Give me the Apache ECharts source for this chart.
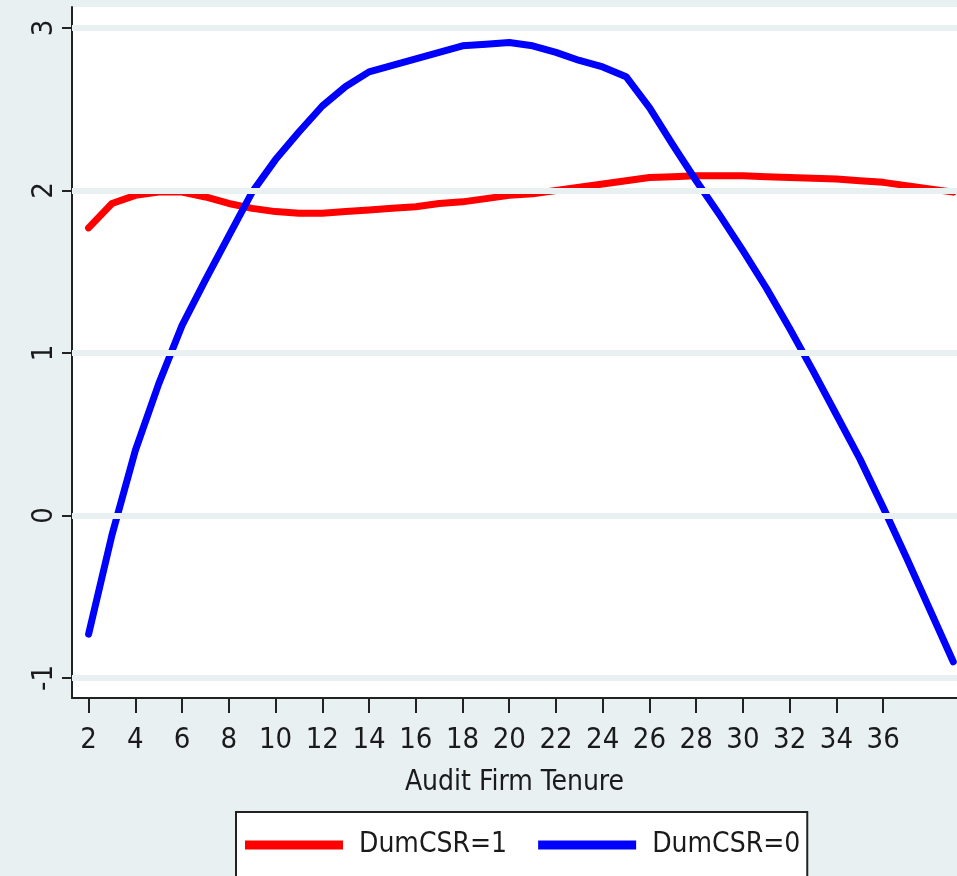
<!DOCTYPE html>
<html>
<head>
<meta charset="utf-8">
<script src="https://cdn.jsdelivr.net/npm/echarts@6/dist/echarts.min.js"></script>
<style>
html,body{margin:0;padding:0;background:#e8f0f2;}
#chart{width:957px;height:876px;}
</style>
</head>
<body>
<div id="chart"></div>
<script>
const tenure = [2,3,4,5,6,7,8,9,10,11,12,13,14,15,16,17,18,19,20,21,22,23,24,25,26,27,28,29,30,31,32,33,34,35,36,37,38,39];
const csr1 = [1.77,1.92,1.97,1.99,1.99,1.96,1.92,1.89,1.87,1.86,1.86,1.87,1.88,1.89,1.90,1.92,1.93,1.95,1.97,1.98,2.00,2.02,2.04,2.06,2.08,2.085,2.09,2.09,2.09,2.085,2.08,2.075,2.07,2.06,2.05,2.03,2.01,1.99];
const csr0 = [-0.73,-0.12,0.40,0.81,1.17,1.45,1.72,1.99,2.19,2.36,2.52,2.64,2.73,2.77,2.81,2.85,2.89,2.90,2.91,2.89,2.85,2.80,2.76,2.70,2.51,2.28,2.06,1.85,1.63,1.40,1.15,0.89,0.62,0.35,0.05,-0.26,-0.58,-0.90];
const xTicks = [2,4,6,8,10,12,14,16,18,20,22,24,26,28,30,32,34,36];
const yTicks = [-1,0,1,2,3];
const seriesNames = ['DumCSR=1','DumCSR=0'];
const xTitle = 'Audit Firm Tenure';

const FONT = "'Liberation Sans Narrow','Arial Narrow','DejaVu Sans Condensed',sans-serif";
const chart = echarts.init(document.getElementById('chart'));
const pairs = arr => tenure.map((t,i)=>[t,arr[i]]);
chart.setOption({
  backgroundColor:'#e8f0f2',
  animation:false,
  grid:{left:72,top:7,right:0,bottom:178,show:true,backgroundColor:'#ffffff',borderWidth:0},
  xAxis:{
    type:'value',min:1.29,max:39.16,
    name:xTitle,nameLocation:'middle',nameGap:71,
    nameTextStyle:{fontFamily:FONT,fontSize:28,color:'#1a1a1a'},
    axisLine:{show:true,onZero:false,lineStyle:{color:'#222',width:2}},
    axisTick:{show:true,length:15,lineStyle:{color:'#222',width:2},customValues:xTicks},
    axisLabel:{fontFamily:FONT,fontSize:29,color:'#1a1a1a',margin:28,customValues:xTicks},
    splitLine:{show:false}
  },
  yAxis:{
    type:'value',min:-1.123,max:3.129,
    axisLine:{show:true,onZero:false,lineStyle:{color:'#222',width:2}},
    axisTick:{show:true,length:10,lineStyle:{color:'#222',width:2},customValues:yTicks},
    axisLabel:{fontFamily:FONT,fontSize:29,color:'#1a1a1a',margin:13,rotate:90,customValues:yTicks},
    splitLine:{show:false}
  },
  legend:{
    data:seriesNames,
    left:236,top:812,
    orient:'horizontal',
    backgroundColor:'#ffffff',borderColor:'#222',borderWidth:2,
    padding:[15,7,40,9],
    itemWidth:98,itemHeight:9,itemGap:31,
    icon:'rect',
    textStyle:{fontFamily:FONT,fontSize:28,color:'#1a1a1a',lineHeight:36,padding:[0,0,0,11]}
  },
  series:[
    {type:'line',name:'grid',data:[],z:1,silent:true,
     markLine:{silent:true,symbol:['none','none'],label:{show:false},
       lineStyle:{color:'#e9f0f2',width:6,type:'solid'},
       data:yTicks.map(v=>({yAxis:v}))}},
    {type:'line',name:seriesNames[0],data:pairs(csr1),showSymbol:false,symbol:'none',z:3,
     lineStyle:{color:'#ff0000',width:7,cap:'round',join:'round'},itemStyle:{color:'#ff0000'}},
    {type:'line',name:seriesNames[1],data:pairs(csr0),showSymbol:false,symbol:'none',z:4,
     lineStyle:{color:'#0000ff',width:7,cap:'round',join:'round'},itemStyle:{color:'#0000ff'}}
  ]
});
</script>
</body>
</html>
